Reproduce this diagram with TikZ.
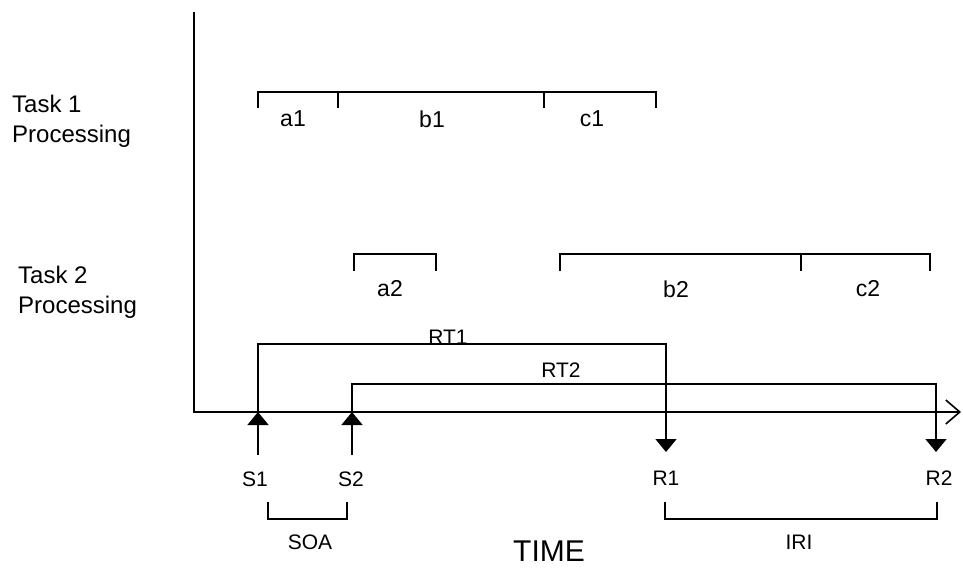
\documentclass[tikz,border=0pt]{standalone}
\usepackage{fontspec}
\setmainfont{Liberation Sans}
\usetikzlibrary{arrows.meta}
\tikzset{
  ln/.style={line width=1.6pt, line join=miter},
  tri/.style={-{Triangle[length=13pt,width=21pt]}},
  lbl/.style={font=\fontsize{21}{24}\selectfont, inner sep=0pt},
  seg/.style={font=\fontsize{23}{26}\selectfont, inner sep=0pt},
  tasklbl/.style={font=\fontsize{24}{30}\selectfont, align=left, inner sep=0pt, anchor=north west},
}
\begin{document}
\begin{tikzpicture}[x=1pt,y=-1pt]
\useasboundingbox (0,0) rectangle (963,571);
% axes
\coordinate (Ytop) at (194,12);
\coordinate (O) at (194,412);
\coordinate (Xend) at (961,412);
\draw[ln,-{Straight Barb[length=14pt,width=24pt]}] (Ytop) -- (O) -- (Xend);

% task labels
\node[tasklbl] (t1) at (12,95) {Task 1\\Processing};
\node[tasklbl] (t2) at (18,266) {Task 2\\Processing};

% task 1 brackets
\draw[ln] (258,108) -- (258,92) -- (656,92) -- (656,108);
\draw[ln] (338,92) -- (338,108);
\draw[ln] (544,92) -- (544,108);
\node[seg] (a1) at (293,119) {a1};
\node[seg] (b1) at (432,119) {b1};
\node[seg] (c1) at (592,119) {c1};

% task 2 brackets
\draw[ln] (354,271) -- (354,254) -- (436,254) -- (436,271);
\draw[ln] (560,271) -- (560,254) -- (930,254) -- (930,271);
\draw[ln] (801,254) -- (801,271);
\node[seg] (a2) at (390,289) {a2};
\node[seg] (b2) at (676,289) {b2};
\node[seg] (c2) at (868,289) {c2};

% stimuli and responses
\coordinate (S1b) at (258,455);
\coordinate (S1a) at (258,412);
\coordinate (S2b) at (352,455);
\coordinate (S2a) at (352,412);
\coordinate (RT1r) at (666,344);
\coordinate (RT2r) at (936,384);
\coordinate (R1a) at (666,452);
\coordinate (R2a) at (936,452);
\draw[ln,tri] (S1b) -- (S1a);
\draw[ln,tri] (S2b) -- (S2a);
\draw[ln,tri] (S1a) |- (RT1r) -- (R1a);
\draw[ln,tri] (S2a) |- (RT2r) -- (R2a);
\node[lbl] (rt1) at (448,337) {RT1};
\node[lbl] (rt2) at (561,370) {RT2};

\node[lbl] (s1) at (255,479) {S1};
\node[lbl] (s2) at (351,479) {S2};
\node[lbl] (r1) at (666,478) {R1};
\node[lbl] (r2) at (939,478) {R2};

% SOA and IRI brackets
\draw[ln] (268,502) -- (268,519) -- (347,519) -- (347,502);
\draw[ln] (665,502) -- (665,519) -- (937,519) -- (937,502);
\node[lbl] (soa) at (310,542) {SOA};
\node[lbl] (iri) at (799,542) {IRI};
\node[font=\fontsize{30}{36}\selectfont, inner sep=0pt] (time) at (549,551) {TIME};
\end{tikzpicture}
\end{document}
